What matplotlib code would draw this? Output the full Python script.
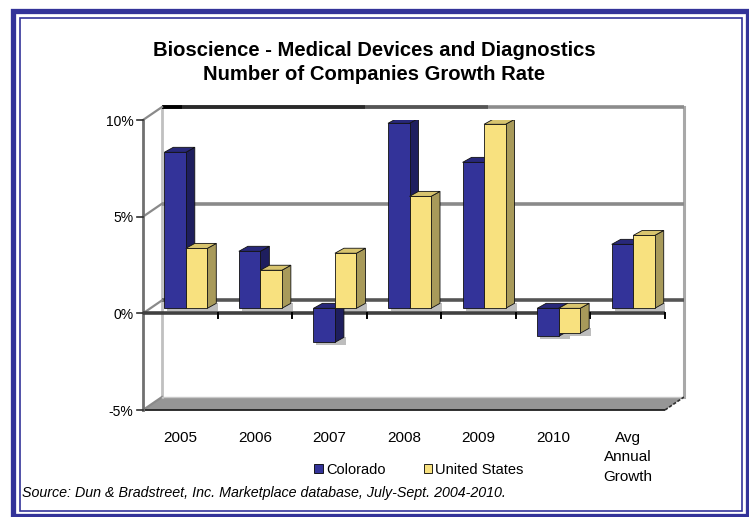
import matplotlib
matplotlib.use("Agg")
import matplotlib.pyplot as plt
from matplotlib.patches import Polygon, Rectangle

categories = ["2005", "2006", "2007", "2008", "2009", "2010", "Avg\nAnnual\nGrowth"]
colorado = [8.07, 2.95, -1.76, 9.57, 7.55, -1.45, 3.31]
united_states = [3.1, 1.97, 2.85, 5.79, 9.52, -1.29, 3.77]
series_names = ["Colorado", "United States"]
y_ticks = [-5, 0, 5, 10]
y_tick_labels = ["-5%", "0%", "5%", "10%"]
title = "Bioscience - Medical Devices and Diagnostics\nNumber of Companies Growth Rate"
source = "Source: Dun & Bradstreet, Inc. Marketplace database, July-Sept. 2004-2010."

# styling
W, H = 749, 517
base = "Liberation Sans"

front_cols = ["#333399", "#F8E17F"]
side_cols = ["#1E1E5E", "#A89A5A"]
top_cols = ["#28287A", "#D8C46E"]

fig = plt.figure(figsize=(W / 100, H / 100), dpi=100)
fig.patch.set_facecolor("white")

def fx(px):
    return px / W

def fy(py):
    return 1 - py / H

# axes: front plane from x=143..665 px, y=120(10%)..410(-5%)
ax = fig.add_axes([fx(143), fy(410), fx(665) - fx(143), fy(120) - fy(410)])
n = len(categories)
ax.set_xlim(0, n)
ax.set_ylim(-5, 10)
for s in ax.spines.values():
    s.set_visible(False)
ax.patch.set_visible(False)

# pixel -> data scale
px_x = (665 - 143) / n
px_y = (410 - 120) / 15.0
DX, DY = 19 / px_x, 13 / px_y          # wall depth
SX, SY = 5.5 / px_x, 5 / px_y          # bar placement depth
BX, BY = 9 / px_x, 5 / px_y            # bar thickness
bw = 21.5 / px_x

ymin, ymax = -5, 10
# floor
ax.add_patch(Polygon([(0, ymin), (n, ymin), (n + DX, ymin + DY), (DX, ymin + DY)],
                     closed=True, facecolor="#969696", edgecolor="none", zorder=1, clip_on=False))
ax.plot([0, n], [ymin, ymin], color="#202020", lw=1.3, zorder=2, clip_on=False, solid_capstyle="butt")
ax.plot([DX, n + DX], [ymin + DY, ymin + DY], color="#c8c8c8", lw=1.0, zorder=2, clip_on=False)
ax.plot([n, n + DX], [ymin, ymin + DY], color="#303030", lw=1.2, zorder=2, clip_on=False, ls=(0, (2, 1)))

# back wall edges
ax.plot([DX, DX], [ymin + DY, ymax + DY], color="#c0c0c0", lw=2, zorder=1, clip_on=False)
ax.plot([n + DX, n + DX], [ymin + DY, ymax + DY], color="#a8a8a8", lw=2.2, zorder=1, clip_on=False)

# back gridlines
for v in [0, 5]:
    c = "#555555" if v == 0 else "#8a8a8a"
    ax.plot([DX, n + DX], [v + DY, v + DY], color=c, lw=2.6, zorder=1, clip_on=False, solid_capstyle="butt")
# top edge (10%) with darker left part
top_segments = [(DX, n + DX, "#8c8c8c"), (DX, 4.63, "#555555"), (DX, 2.98, "#2a2a2a"), (DX, 0.52, "#000000")]
for a, b, c in top_segments:
    ax.plot([a, b], [ymax + DY, ymax + DY], color=c, lw=2.6, zorder=1, clip_on=False, solid_capstyle="butt")

# left side wall diagonals
for v in y_ticks:
    ax.plot([0, DX], [v, v + DY], color="#8a8a8a", lw=1.6, zorder=1, clip_on=False)
# front left axis
ax.plot([0, 0], [ymin, ymax], color="#707070", lw=2, zorder=2, clip_on=False)
for v in y_ticks:
    ax.plot([-6 / px_x, 0], [v, v], color="#303030", lw=1.2, zorder=2, clip_on=False)

# front 0% category axis
ax.plot([0, n], [0, 0], color="#404040", lw=2.6, zorder=2, clip_on=False, solid_capstyle="butt")
for i in range(1, n + 1):
    ax.plot([i, i], [0, -5 / px_y], color="#000000", lw=1.4, zorder=2, clip_on=False)

# bars
def draw_bar(x0, val, k, z):
    b = SY
    lo, hi = (b, b + val) if val >= 0 else (b + val, b)
    x0 = x0 + SX
    # shadow
    ax.add_patch(Polygon([(x0 + 3 / px_x, lo - 2.5 / px_y), (x0 + bw + BX + 2 / px_x, lo - 2.5 / px_y),
                          (x0 + bw + BX + 2 / px_x, lo + BY), (x0 + 3 / px_x, lo + BY)],
                         closed=True, facecolor="#bdbdbd", edgecolor="none", zorder=z - 0.5))
    ax.add_patch(Polygon([(x0 + bw, lo), (x0 + bw, hi), (x0 + bw + BX, hi + BY), (x0 + bw + BX, lo + BY)],
                         closed=True, facecolor=side_cols[k], edgecolor="#111111", lw=0.6, zorder=z))
    ax.add_patch(Polygon([(x0, hi), (x0 + bw, hi), (x0 + bw + BX, hi + BY), (x0 + BX, hi + BY)],
                         closed=True, facecolor=top_cols[k], edgecolor="#111111", lw=0.6, zorder=z))
    ax.add_patch(Rectangle((x0, lo), bw, hi - lo, facecolor=front_cols[k], edgecolor="#111111",
                           lw=0.6, zorder=z))

for i in range(n):
    draw_bar(i + 0.5 - bw, colorado[i], 0, 3 + i * 0.1)
    draw_bar(i + 0.5, united_states[i], 1, 3.05 + i * 0.1)

# tick labels
ax.set_yticks(y_ticks)
ax.set_yticklabels(y_tick_labels, fontfamily=base, fontsize=10)
ax.tick_params(axis="y", length=0, pad=7)
ax.set_xticks([i + 0.5 for i in range(n)])
ax.set_xticklabels(categories, fontfamily=base, fontsize=11, linespacing=1.5)
ax.tick_params(axis="x", length=0, pad=15)

# title
fig.text(0.5, fy(41), title, ha="center", va="top", fontsize=14.6, fontweight="bold",
         fontfamily=base, linespacing=1.3)

# legend
handles = [Rectangle((0, 0), 1, 1, facecolor=front_cols[k], edgecolor="#000000", lw=0.6) for k in range(2)]
fig.legend(handles, series_names, loc="center", bbox_to_anchor=(fx(419), fy(470)), ncol=2,
           frameon=False, handlelength=0.6, handleheight=0.6, handletextpad=0.2,
           columnspacing=2.6, prop={"family": base, "size": 10.5})

# source
fig.text(fx(22), fy(493), source, ha="left", va="center", fontsize=10.3, style="italic",
         fontfamily=base)

# borders
fig.patches.append(Rectangle((fx(12.5), fy(516)), fx(747.5) - fx(12.5), fy(10.5) - fy(516),
                             transform=fig.transFigure, fill=False, edgecolor="#333399", lw=3.8))
fig.patches.append(Rectangle((fx(20), fy(511)), fx(741.5) - fx(20), fy(18) - fy(511),
                             transform=fig.transFigure, fill=False, edgecolor="#333399", lw=1.2))

fig.savefig("out.png", dpi=100)
